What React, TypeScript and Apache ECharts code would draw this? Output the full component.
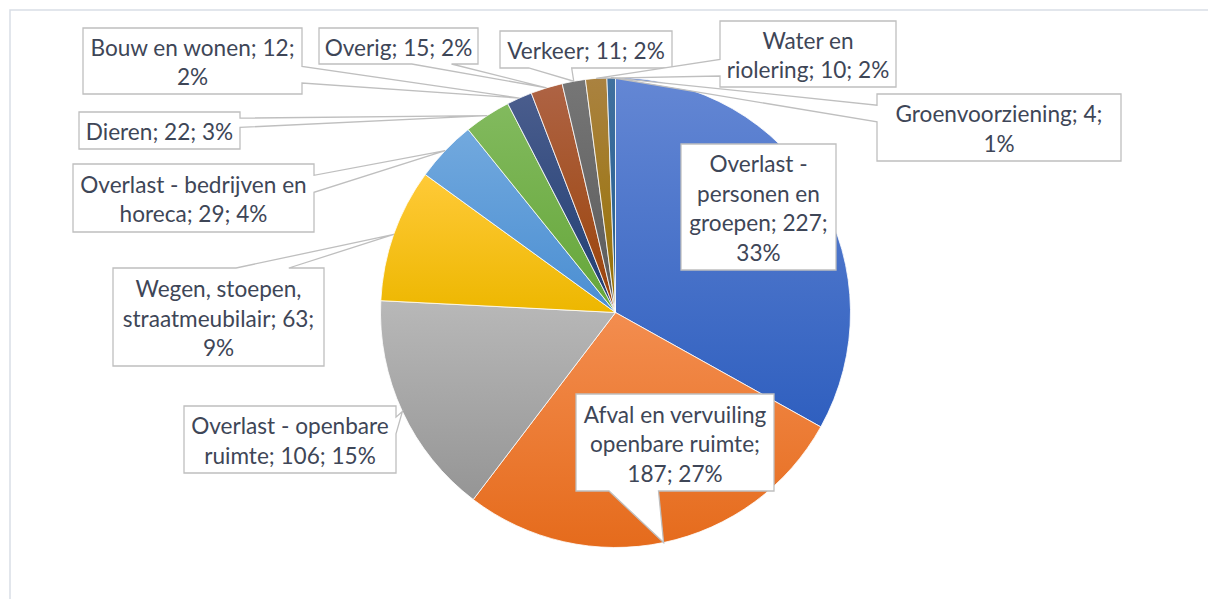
import React, { useEffect, useRef } from "react";
import * as echarts from "echarts";

// ---- data ----
const categories = [
  "Overlast - personen en groepen",
  "Afval en vervuiling openbare ruimte",
  "Overlast - openbare ruimte",
  "Wegen, stoepen, straatmeubilair",
  "Overlast - bedrijven en horeca",
  "Dieren",
  "Bouw en wonen",
  "Overig",
  "Verkeer",
  "Water en riolering",
  "Groenvoorziening",
];
const values = [227, 187, 106, 63, 29, 22, 12, 15, 11, 10, 4];

// gradient colours per slice (top -> bottom)
const colorsTop = [
  "#6487d4", "#f38d4f", "#b8b8b8", "#ffca38", "#72a9de", "#82ba5e",
  "#4a5d8d", "#ae6344", "#767676", "#aa8240", "#41719f",
];
const colorsBottom = [
  "#2f5fbf", "#e56b1c", "#959595", "#edb700", "#4a8ed2", "#65a639",
  "#1f3d73", "#9a4207", "#5a5a5a", "#967100", "#225a8c",
];

// after which word each label line breaks
const lineBreaks = [[2, 4, 6], [3, 5], [3], [2, 4], [4], [], [4], [], [], [2], [2]];

// ---- layout (chart pixels) ----
const CENTER_X = 607.5;
const CENTER_Y = 304.5;
const RADIUS = 235;
// callout boxes: [left, top, width, height]
const boxes: number[][] = [
  [673, 136, 155, 126],
  [568, 386, 198, 97],
  [176, 398, 212, 67],
  [105, 260, 211, 98],
  [65, 156, 241, 68],
  [71, 104, 161, 37],
  [75, 20, 219, 66],
  [311, 20, 159, 36],
  [492, 23, 172, 37],
  [712, 13, 176, 66],
  [869, 86, 244, 67],
];

function roundedPercents(vals: number[]): number[] {
  const total = vals.reduce((a, b) => a + b, 0);
  const raw = vals.map((v) => (v / total) * 100);
  const res = raw.map((r) => Math.floor(r));
  const rest = 100 - res.reduce((a, b) => a + b, 0);
  const order = raw
    .map((r, i) => ({ rem: r - Math.floor(r), i }))
    .sort((a, b) => b.rem - a.rem);
  for (let k = 0; k < rest; k++) res[order[k].i] += 1;
  return res;
}

function labelText(i: number, pct: number[]): string {
  const words = `${categories[i]}; ${values[i]}; ${pct[i]}%`.split(" ");
  const lines: string[] = [];
  let cur: string[] = [];
  words.forEach((w, k) => {
    cur.push(w);
    if (lineBreaks[i].includes(k + 1)) {
      lines.push(cur.join(" "));
      cur = [];
    }
  });
  if (cur.length) lines.push(cur.join(" "));
  return lines.join("\n");
}

function calloutPoints(box: number[], tip: number[]): number[][] {
  const [l, t, w, h] = box;
  const r = l + w;
  const b = t + h;
  const cx = l + w / 2;
  const cy = t + h / 2;
  const [tx, ty] = tip;
  if (tx > l && tx < r && ty > t && ty < b) {
    return [[l, t], [r, t], [r, b], [l, b]];
  }
  const dx = tx - cx;
  const dy = ty - cy;
  if (Math.abs(dy) * w > Math.abs(dx) * h) {
    const x1 = l + (w * (dx > 0 ? 7 : 2)) / 12;
    const x2 = l + (w * (dx > 0 ? 10 : 5)) / 12;
    if (dy < 0) return [[l, t], [x1, t], [tx, ty], [x2, t], [r, t], [r, b], [l, b]];
    return [[l, t], [r, t], [r, b], [x2, b], [tx, ty], [x1, b], [l, b]];
  }
  const y1 = t + (h * (dy > 0 ? 7 : 2)) / 12;
  const y2 = t + (h * (dy > 0 ? 10 : 5)) / 12;
  if (dx > 0) return [[l, t], [r, t], [r, y1], [tx, ty], [r, y2], [r, b], [l, b]];
  return [[l, t], [r, t], [r, b], [l, b], [l, y2], [tx, ty], [l, y1]];
}

export default function App() {
  const ref = useRef<HTMLDivElement>(null);

  useEffect(() => {
    if (!ref.current) return;
    const chart = echarts.init(ref.current, null, { renderer: "svg" });
    const pct = roundedPercents(values);
    const total = values.reduce((a, b) => a + b, 0);

    const graphics: any[] = [
      {
        type: "rect",
        shape: { x: 2, y: 2, width: 1400, height: 900 },
        style: { fill: "none", stroke: "#d9dee6", lineWidth: 1.5 },
        z: 1,
        silent: true,
      },
    ];
    let cum = 0;
    values.forEach((v, i) => {
      const theta = ((cum + v / 2) / total) * Math.PI * 2;
      cum += v;
      const tip = [CENTER_X + RADIUS * Math.sin(theta), CENTER_Y - RADIUS * Math.cos(theta)];
      const box = boxes[i];
      graphics.push({
        type: "polygon",
        shape: { points: calloutPoints(box, tip) },
        style: { fill: "#ffffff", stroke: "#bfbfbf", lineWidth: 1.3 },
        z: 10 + i * 0.01,
        silent: true,
      });
    });
    values.forEach((v, i) => {
      const box = boxes[i];
      graphics.push({
        type: "text",
        x: box[0] + box[2] / 2,
        y: box[1] + box[3] / 2 + 1,
        style: {
          text: labelText(i, pct),
          fill: "#3e4657",
          fontSize: 22.6,
          fontFamily: "Lato, 'Noto Sans', sans-serif",
          lineHeight: 29.5,
          align: "center",
          verticalAlign: "middle",
          textAlign: "center",
          textVerticalAlign: "middle",
        },
        z: 20,
        silent: true,
      });
    });

    chart.setOption({
      animation: false,
      backgroundColor: "#ffffff",
      series: [
        {
          type: "pie",
          center: [CENTER_X, CENTER_Y],
          radius: RADIUS,
          startAngle: 90,
          clockwise: true,
          percentPrecision: 0,
          avoidLabelOverlap: false,
          silent: true,
          label: { show: false },
          labelLine: { show: false },
          itemStyle: { borderColor: "#ffffff", borderWidth: 0.8 },
          data: values.map((v, i) => ({
            name: categories[i],
            value: v,
            itemStyle: {
              color: new echarts.graphic.LinearGradient(0, 0, 0, 1, [
                { offset: 0, color: colorsTop[i] },
                { offset: 1, color: colorsBottom[i] },
              ]),
            },
          })),
        },
      ],
      graphic: graphics,
    });

    return () => chart.dispose();
  }, []);

  return (
    <div
      ref={ref}
      style={{ width: "1208px", height: "599px", marginBottom: "-8px", overflow: "hidden" }}
    />
  );
}
